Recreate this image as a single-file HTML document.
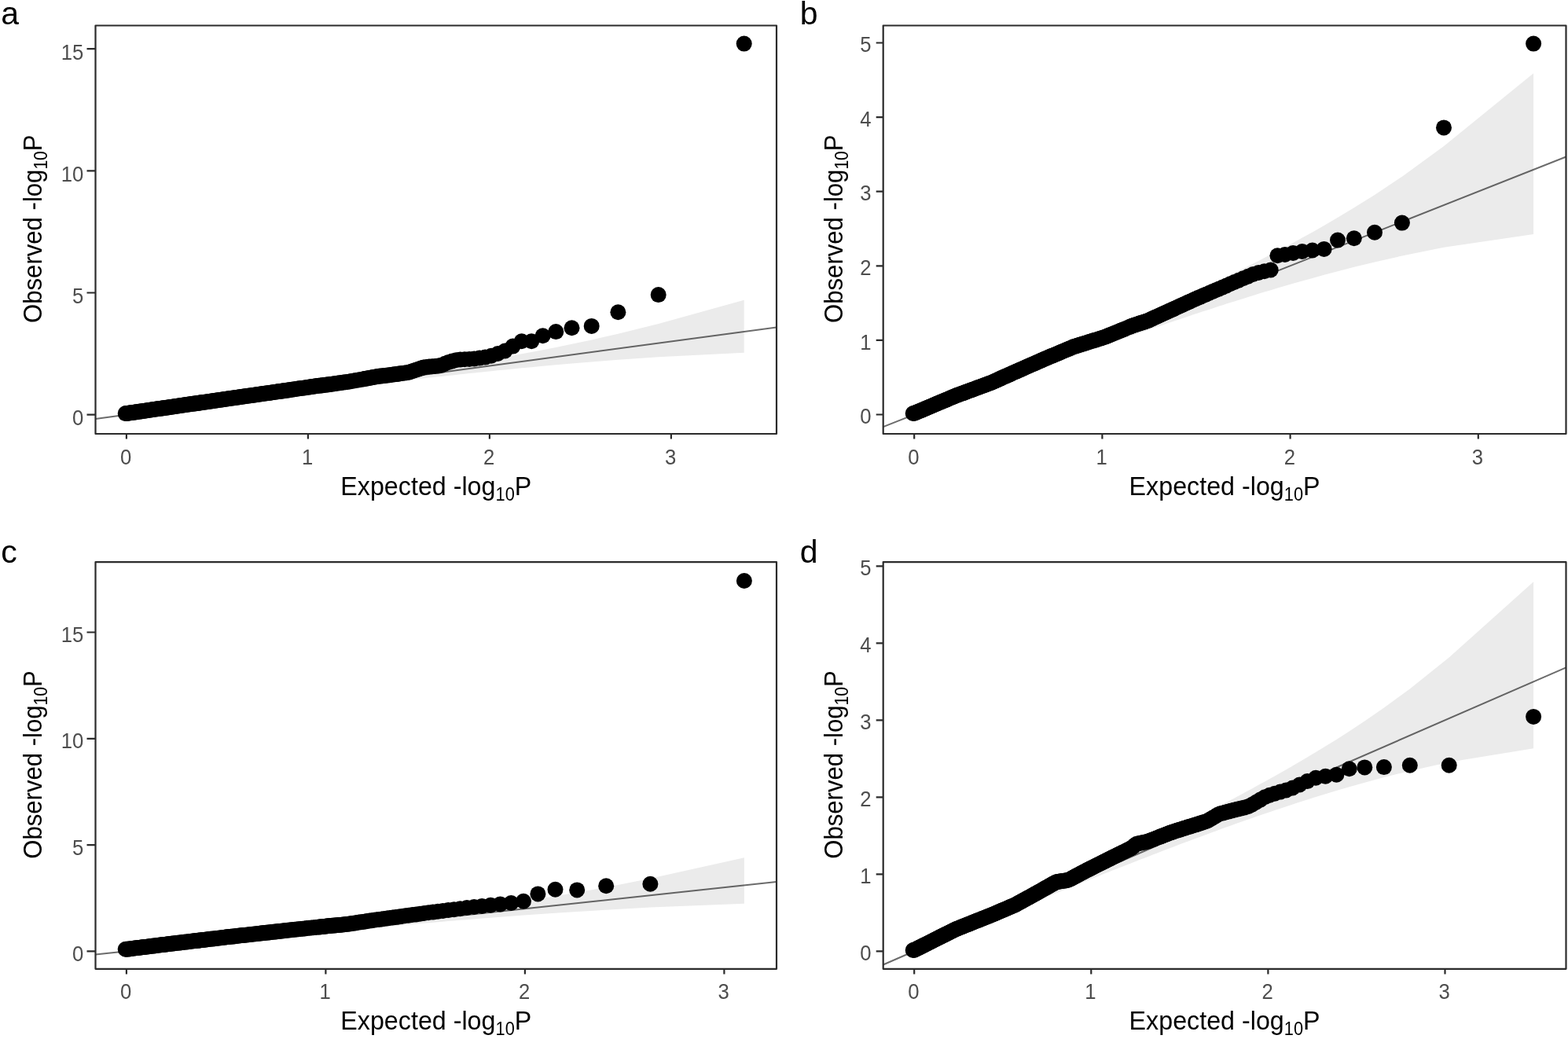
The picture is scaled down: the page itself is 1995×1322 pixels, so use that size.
<!DOCTYPE html>
<html lang="en">
<head>
<meta charset="utf-8">
<title>QQ plots</title>
<style>
html,body{margin:0;padding:0;background:#fff;}
body{width:1995px;height:1322px;overflow:hidden;}
svg{display:block;}
text{font-family:"Liberation Sans",sans-serif;}
.tl text{font-size:28px;fill:#4d4d4d;}
.at{font-size:34px;fill:#000;}
.sub{font-size:23px;}
.pl{font-size:41px;fill:#000;}
</style>
</head>
<body>
<svg width="1995" height="1322" viewBox="0 0 1995 1322">
<rect width="1995" height="1322" fill="#fff"/>
<g id="panel-a">
<clipPath id="clip-a"><rect x="121.5" y="32.5" width="866.5" height="519.5"/></clipPath>
<g clip-path="url(#clip-a)">
<polygon fill="#ebebeb" points="946.7,381.7 837.7,412.1 786.4,424.8 752.7,432.4 727.5,437.8 707.3,441.9 690.6,445.2 676.2,447.9 663.7,450.3 652.5,452.4 642.5,454.2 633.3,455.8 625,457.3 617.3,458.7 610.1,459.9 603.4,461.1 597.1,462.2 591.2,463.2 585.6,464.1 580.4,465 575.3,465.8 570.6,466.6 566,467.4 561.6,468.1 557.5,468.8 553.5,469.4 549.6,470.1 545.9,470.7 542.3,471.2 538.8,471.8 535.5,472.3 532.3,472.9 529.1,473.4 526.1,473.8 520.3,474.8 514.8,475.6 509.5,476.5 504.6,477.2 499.9,478 495.4,478.7 491,479.3 486.9,480 482.9,480.6 479.1,481.2 475.4,481.8 471.9,482.3 468.4,482.8 465.1,483.3 461.9,483.8 458.8,484.3 455.8,484.8 451.4,485.4 447.2,486 443.2,486.7 439.4,487.2 435.7,487.8 432.1,488.3 428.6,488.8 425.3,489.3 422,489.8 418.9,490.3 415.9,490.8 411.9,491.3 408.2,491.9 404.5,492.4 401,492.9 397.7,493.4 394.4,493.9 391.2,494.4 388.1,494.8 384.4,495.4 380.8,495.9 377.4,496.4 374,496.9 370.8,497.4 367.7,497.8 364.6,498.3 361.1,498.8 357.7,499.3 354.4,499.8 351.2,500.2 348.1,500.7 345.1,501.1 341.7,501.6 338.4,502.1 335.2,502.5 332.2,503 328.7,503.5 325.4,504 322.3,504.4 319.2,504.9 316.2,505.3 312.9,505.8 309.7,506.2 306.6,506.7 303.3,507.1 300.1,507.6 297,508 294,508.5 290.8,508.9 287.7,509.4 284.7,509.8 281.5,510.2 278.4,510.7 275.2,511.1 272,511.6 269,512 265.8,512.5 262.7,512.9 259.5,513.4 256.4,513.8 253.4,514.2 250.3,514.7 247.3,515.1 244.2,515.6 241.1,516 238,516.4 235,516.8 232,517.3 228.8,517.7 225.8,518.2 222.7,518.6 219.7,519 216.6,519.5 213.5,519.9 210.5,520.3 207.4,520.8 204.4,521.2 201.3,521.6 198.2,522.1 195.2,522.5 192.2,522.9 189.1,523.4 186,523.8 182.9,524.3 179.8,524.7 176.8,525.1 173.7,525.6 170.6,526 167.5,526.5 164.5,527 161.4,527.5 160.9,527.6 160.9,527.6 161.4,527.6 164.5,527.2 167.5,526.9 170.6,526.5 173.7,526.1 176.8,525.8 179.8,525.4 182.9,525 186,524.6 189.1,524.2 192.2,523.8 195.2,523.4 198.2,523.1 201.3,522.7 204.4,522.3 207.4,521.9 210.5,521.5 213.5,521.1 216.6,520.7 219.7,520.3 222.7,520 225.8,519.6 228.8,519.2 232,518.8 235,518.4 238,518 241.1,517.6 244.2,517.2 247.3,516.8 250.3,516.5 253.4,516.1 256.4,515.7 259.5,515.3 262.7,514.9 265.8,514.5 269,514.1 272,513.7 275.2,513.3 278.4,512.9 281.5,512.5 284.7,512.1 287.7,511.7 290.8,511.3 294,510.9 297,510.5 300.1,510.1 303.3,509.7 306.6,509.3 309.7,508.9 312.9,508.5 316.2,508.1 319.2,507.8 322.3,507.4 325.4,507 328.7,506.6 332.2,506.1 335.2,505.7 338.4,505.3 341.7,504.9 345.1,504.5 348.1,504.1 351.2,503.8 354.4,503.4 357.7,503 361.1,502.5 364.6,502.1 367.7,501.7 370.8,501.3 374,500.9 377.4,500.5 380.8,500.1 384.4,499.6 388.1,499.2 391.2,498.8 394.4,498.4 397.7,498 401,497.6 404.5,497.2 408.2,496.7 411.9,496.3 415.9,495.8 418.9,495.4 422,495.1 425.3,494.7 428.6,494.3 432.1,493.8 435.7,493.4 439.4,493 443.2,492.5 447.2,492 451.4,491.5 455.8,491 458.8,490.7 461.9,490.3 465.1,489.9 468.4,489.5 471.9,489.1 475.4,488.7 479.1,488.3 482.9,487.8 486.9,487.4 491,486.9 495.4,486.4 499.9,485.8 504.6,485.3 509.5,484.7 514.8,484.1 520.3,483.5 526.1,482.9 529.1,482.5 532.3,482.2 535.5,481.8 538.8,481.4 542.3,481 545.9,480.6 549.6,480.2 553.5,479.8 557.5,479.3 561.6,478.9 566,478.4 570.6,477.9 575.3,477.4 580.4,476.9 585.6,476.3 591.2,475.7 597.1,475.1 603.4,474.4 610.1,473.7 617.3,473 625,472.2 633.3,471.3 642.5,470.4 652.5,469.4 663.7,468.3 676.2,467.2 690.6,465.8 707.3,464.3 727.5,462.5 752.7,460.5 786.4,457.8 837.7,454.3 946.7,448.8"/>
<line x1="121.5" y1="532.9" x2="988" y2="416.5" stroke="#000" stroke-opacity="0.58" stroke-width="2"/>
<g fill="#000"><circle cx="159.7" cy="526.1" r="10.0"/><circle cx="946.7" cy="55.6" r="10.0"/><circle cx="837.7" cy="375.1" r="10.0"/><circle cx="786.4" cy="397.2" r="10.0"/><circle cx="752.7" cy="414.9" r="10.0"/><circle cx="727.5" cy="417.3" r="10.0"/><circle cx="707.3" cy="422.1" r="10.0"/><circle cx="690.6" cy="427.3" r="10.0"/><circle cx="676.2" cy="434.2" r="10.0"/><circle cx="663.7" cy="434.2" r="10.0"/><circle cx="652.5" cy="440.6" r="10.0"/><circle cx="642.5" cy="446.5" r="10.0"/><circle cx="633.3" cy="450" r="10.0"/><circle cx="625" cy="452.7" r="10.0"/><circle cx="617.3" cy="454.6" r="10.0"/><circle cx="610.1" cy="455.6" r="10.0"/><circle cx="603.4" cy="456.4" r="10.0"/><circle cx="597.1" cy="456.9" r="10.0"/><circle cx="591.2" cy="457.2" r="10.0"/><circle cx="585.6" cy="457.4" r="10.0"/><circle cx="580.4" cy="458.3" r="10.0"/><circle cx="575.3" cy="459.5" r="10.0"/><circle cx="570.6" cy="460.9" r="10.0"/><circle cx="566" cy="462.8" r="10.0"/><circle cx="561.6" cy="464.7" r="10.0"/><circle cx="557.5" cy="465.6" r="10.0"/><circle cx="553.5" cy="466" r="10.0"/><circle cx="549.6" cy="466.3" r="10.0"/><circle cx="545.9" cy="466.6" r="10.0"/><circle cx="542.3" cy="466.9" r="10.0"/><circle cx="538.8" cy="467.5" r="10.0"/><circle cx="535.5" cy="468.6" r="10.0"/><circle cx="532.3" cy="469.7" r="10.0"/><circle cx="529.1" cy="470.7" r="10.0"/><circle cx="526.1" cy="471.8" r="10.0"/><circle cx="523.1" cy="472.8" r="10.0"/><circle cx="520.3" cy="473.7" r="10.0"/><circle cx="517.5" cy="474.2" r="10.0"/><circle cx="514.8" cy="474.5" r="10.0"/><circle cx="512.1" cy="474.9" r="10.0"/><circle cx="509.5" cy="475.3" r="10.0"/><circle cx="507" cy="475.6" r="10.0"/><circle cx="504.6" cy="476" r="10.0"/><circle cx="502.2" cy="476.3" r="10.0"/><circle cx="499.9" cy="476.6" r="10.0"/><circle cx="497.6" cy="476.9" r="10.0"/><circle cx="495.4" cy="477.2" r="10.0"/><circle cx="493.2" cy="477.4" r="10.0"/><circle cx="491" cy="477.7" r="10.0"/><circle cx="489" cy="477.9" r="10.0"/><circle cx="486.9" cy="478.2" r="10.0"/><circle cx="484.9" cy="478.4" r="10.0"/><circle cx="482.9" cy="478.6" r="10.0"/><circle cx="481" cy="478.9" r="10.0"/><circle cx="479.1" cy="479.2" r="10.0"/><circle cx="477.3" cy="479.5" r="10.0"/><circle cx="475.4" cy="479.9" r="10.0"/><circle cx="473.6" cy="480.2" r="10.0"/><circle cx="471.9" cy="480.5" r="10.0"/><circle cx="470.1" cy="480.9" r="10.0"/><circle cx="468.4" cy="481.2" r="10.0"/><circle cx="466.8" cy="481.5" r="10.0"/><circle cx="465.1" cy="481.8" r="10.0"/><circle cx="463.5" cy="482.1" r="10.0"/><circle cx="461.9" cy="482.4" r="10.0"/><circle cx="458.8" cy="483" r="10.0"/><circle cx="455.8" cy="483.5" r="10.0"/><circle cx="452.9" cy="484" r="10.0"/><circle cx="450" cy="484.5" r="10.0"/><circle cx="447.2" cy="485" r="10.0"/><circle cx="444.6" cy="485.4" r="10.0"/><circle cx="441.9" cy="485.9" r="10.0"/><circle cx="439.4" cy="486.3" r="10.0"/><circle cx="436.9" cy="486.6" r="10.0"/><circle cx="434.5" cy="487" r="10.0"/><circle cx="432.1" cy="487.3" r="10.0"/><circle cx="429.8" cy="487.6" r="10.0"/><circle cx="427.5" cy="488" r="10.0"/><circle cx="425.3" cy="488.3" r="10.0"/><circle cx="423.1" cy="488.6" r="10.0"/><circle cx="421" cy="488.9" r="10.0"/><circle cx="418.9" cy="489.1" r="10.0"/><circle cx="416.9" cy="489.4" r="10.0"/><circle cx="414.9" cy="489.6" r="10.0"/><circle cx="412.9" cy="489.9" r="10.0"/><circle cx="411" cy="490.1" r="10.0"/><circle cx="409.1" cy="490.4" r="10.0"/><circle cx="407.3" cy="490.6" r="10.0"/><circle cx="405.4" cy="490.8" r="10.0"/><circle cx="403.7" cy="491" r="10.0"/><circle cx="401.9" cy="491.3" r="10.0"/><circle cx="400.2" cy="491.5" r="10.0"/><circle cx="398.5" cy="491.7" r="10.0"/><circle cx="396.8" cy="492" r="10.0"/><circle cx="395.2" cy="492.2" r="10.0"/><circle cx="393.6" cy="492.5" r="10.0"/><circle cx="392" cy="492.7" r="10.0"/><circle cx="389.7" cy="493" r="10.0"/><circle cx="387.4" cy="493.4" r="10.0"/><circle cx="385.1" cy="493.7" r="10.0"/><circle cx="383" cy="494" r="10.0"/><circle cx="380.8" cy="494.3" r="10.0"/><circle cx="378.7" cy="494.6" r="10.0"/><circle cx="376.7" cy="495" r="10.0"/><circle cx="374.7" cy="495.2" r="10.0"/><circle cx="372.7" cy="495.5" r="10.0"/><circle cx="370.8" cy="495.8" r="10.0"/><circle cx="368.9" cy="496.1" r="10.0"/><circle cx="367" cy="496.4" r="10.0"/><circle cx="365.2" cy="496.6" r="10.0"/><circle cx="363.4" cy="496.9" r="10.0"/><circle cx="361.7" cy="497.1" r="10.0"/><circle cx="359.9" cy="497.4" r="10.0"/><circle cx="358.2" cy="497.6" r="10.0"/><circle cx="356.6" cy="497.9" r="10.0"/><circle cx="354.9" cy="498.1" r="10.0"/><circle cx="353.3" cy="498.3" r="10.0"/><circle cx="351.7" cy="498.6" r="10.0"/><circle cx="349.6" cy="498.9" r="10.0"/><circle cx="347.6" cy="499.1" r="10.0"/><circle cx="345.6" cy="499.4" r="10.0"/><circle cx="343.6" cy="499.7" r="10.0"/><circle cx="341.7" cy="500" r="10.0"/><circle cx="339.8" cy="500.2" r="10.0"/><circle cx="337.9" cy="500.5" r="10.0"/><circle cx="336.1" cy="500.8" r="10.0"/><circle cx="334.3" cy="501" r="10.0"/><circle cx="332.6" cy="501.3" r="10.0"/><circle cx="330.9" cy="501.5" r="10.0"/><circle cx="329.2" cy="501.8" r="10.0"/><circle cx="327.5" cy="502" r="10.0"/><circle cx="325.9" cy="502.2" r="10.0"/><circle cx="324.2" cy="502.5" r="10.0"/><circle cx="322.6" cy="502.7" r="10.0"/><circle cx="320.7" cy="503" r="10.0"/><circle cx="318.8" cy="503.2" r="10.0"/><circle cx="316.9" cy="503.5" r="10.0"/><circle cx="315.1" cy="503.8" r="10.0"/><circle cx="313.2" cy="504" r="10.0"/><circle cx="311.5" cy="504.3" r="10.0"/><circle cx="309.7" cy="504.5" r="10.0"/><circle cx="308" cy="504.8" r="10.0"/><circle cx="306.3" cy="505" r="10.0"/><circle cx="304.7" cy="505.2" r="10.0"/><circle cx="303" cy="505.5" r="10.0"/><circle cx="301.4" cy="505.7" r="10.0"/><circle cx="299.5" cy="506" r="10.0"/><circle cx="297.7" cy="506.2" r="10.0"/><circle cx="295.8" cy="506.5" r="10.0"/><circle cx="294" cy="506.7" r="10.0"/><circle cx="292.3" cy="507" r="10.0"/><circle cx="290.5" cy="507.2" r="10.0"/><circle cx="288.8" cy="507.5" r="10.0"/><circle cx="287.2" cy="507.7" r="10.0"/><circle cx="285.5" cy="508" r="10.0"/><circle cx="283.9" cy="508.2" r="10.0"/><circle cx="282.3" cy="508.4" r="10.0"/><circle cx="280.5" cy="508.7" r="10.0"/><circle cx="278.7" cy="508.9" r="10.0"/><circle cx="276.9" cy="509.2" r="10.0"/><circle cx="275.2" cy="509.5" r="10.0"/><circle cx="273.5" cy="509.7" r="10.0"/><circle cx="271.8" cy="509.9" r="10.0"/><circle cx="270.1" cy="510.2" r="10.0"/><circle cx="268.5" cy="510.4" r="10.0"/><circle cx="266.9" cy="510.7" r="10.0"/><circle cx="265.1" cy="510.9" r="10.0"/><circle cx="263.4" cy="511.2" r="10.0"/><circle cx="261.6" cy="511.4" r="10.0"/><circle cx="259.9" cy="511.7" r="10.0"/><circle cx="258.3" cy="511.9" r="10.0"/><circle cx="256.6" cy="512.1" r="10.0"/><circle cx="255" cy="512.4" r="10.0"/><circle cx="253.4" cy="512.6" r="10.0"/><circle cx="251.6" cy="512.9" r="10.0"/><circle cx="249.9" cy="513.1" r="10.0"/><circle cx="248.2" cy="513.4" r="10.0"/><circle cx="246.5" cy="513.6" r="10.0"/><circle cx="244.9" cy="513.8" r="10.0"/><circle cx="243.3" cy="514.1" r="10.0"/><circle cx="241.7" cy="514.3" r="10.0"/><circle cx="239.9" cy="514.6" r="10.0"/><circle cx="238.2" cy="514.8" r="10.0"/><circle cx="236.5" cy="515.1" r="10.0"/><circle cx="234.9" cy="515.3" r="10.0"/><circle cx="233.2" cy="515.5" r="10.0"/><circle cx="231.6" cy="515.8" r="10.0"/><circle cx="229.9" cy="516" r="10.0"/><circle cx="228.2" cy="516.3" r="10.0"/><circle cx="226.5" cy="516.5" r="10.0"/><circle cx="224.9" cy="516.8" r="10.0"/><circle cx="223.2" cy="517" r="10.0"/><circle cx="221.6" cy="517.2" r="10.0"/><circle cx="219.9" cy="517.5" r="10.0"/><circle cx="218.2" cy="517.7" r="10.0"/><circle cx="216.6" cy="518" r="10.0"/><circle cx="215" cy="518.2" r="10.0"/><circle cx="213.4" cy="518.4" r="10.0"/><circle cx="211.6" cy="518.7" r="10.0"/><circle cx="210" cy="518.9" r="10.0"/><circle cx="208.3" cy="519.1" r="10.0"/><circle cx="206.7" cy="519.4" r="10.0"/><circle cx="205.1" cy="519.6" r="10.0"/><circle cx="203.4" cy="519.9" r="10.0"/><circle cx="201.7" cy="520.1" r="10.0"/><circle cx="200.1" cy="520.3" r="10.0"/><circle cx="198.5" cy="520.6" r="10.0"/><circle cx="196.9" cy="520.8" r="10.0"/><circle cx="195.2" cy="521" r="10.0"/><circle cx="193.6" cy="521.3" r="10.0"/><circle cx="191.9" cy="521.5" r="10.0"/><circle cx="190.3" cy="521.7" r="10.0"/><circle cx="188.7" cy="522" r="10.0"/><circle cx="187" cy="522.2" r="10.0"/><circle cx="185.4" cy="522.4" r="10.0"/><circle cx="183.8" cy="522.7" r="10.0"/><circle cx="182.2" cy="522.9" r="10.0"/><circle cx="180.5" cy="523.2" r="10.0"/><circle cx="178.9" cy="523.4" r="10.0"/><circle cx="177.3" cy="523.6" r="10.0"/><circle cx="175.7" cy="523.9" r="10.0"/><circle cx="174" cy="524.1" r="10.0"/><circle cx="172.4" cy="524.4" r="10.0"/><circle cx="170.8" cy="524.6" r="10.0"/><circle cx="169.1" cy="524.9" r="10.0"/><circle cx="167.5" cy="525.1" r="10.0"/><circle cx="165.9" cy="525.3" r="10.0"/><circle cx="164.3" cy="525.6" r="10.0"/><circle cx="162.7" cy="525.8" r="10.0"/><circle cx="161.1" cy="526.1" r="10.0"/><circle cx="160.9" cy="526.1" r="10.0"/></g>
</g>
<rect x="121.5" y="32.5" width="866.5" height="519.5" fill="none" stroke="#2b2b2b" stroke-width="2.2" stroke-linejoin="round"/>
<path d="M160.9 552v6.6M391.9 552v6.6M622.9 552v6.6M853.9 552v6.6M121.5 527.6h-11M121.5 372.5h-11M121.5 217.3h-11M121.5 62.1h-11" stroke="#2b2b2b" stroke-width="2.2" fill="none"/>
<g class="tl" text-anchor="middle"><text x="160.1" y="590.6" textLength="14.3" lengthAdjust="spacingAndGlyphs">0</text><text x="391.1" y="590.6" textLength="14.3" lengthAdjust="spacingAndGlyphs">1</text><text x="622.1" y="590.6" textLength="14.3" lengthAdjust="spacingAndGlyphs">2</text><text x="853.1" y="590.6" textLength="14.3" lengthAdjust="spacingAndGlyphs">3</text></g>
<g class="tl" text-anchor="end"><text x="106.3" y="541" textLength="14.3" lengthAdjust="spacingAndGlyphs">0</text><text x="106.3" y="385.9" textLength="14.3" lengthAdjust="spacingAndGlyphs">5</text><text x="106.3" y="230.7" textLength="28.6" lengthAdjust="spacingAndGlyphs">10</text><text x="106.3" y="75.5" textLength="28.6" lengthAdjust="spacingAndGlyphs">15</text></g>
<text class="at" text-anchor="middle" textLength="243" lengthAdjust="spacingAndGlyphs" x="554.8" y="629.6">Expected -log<tspan class="sub" dy="7">10</tspan><tspan dy="-7">P</tspan></text>
<text class="at" text-anchor="middle" textLength="239.5" lengthAdjust="spacingAndGlyphs" transform="translate(52.6 291.2) rotate(-90)">Observed -log<tspan class="sub" dy="7">10</tspan><tspan dy="-7">P</tspan></text>
<text class="pl" x="1.2" y="31">a</text>
</g>
<g id="panel-b">
<clipPath id="clip-b"><rect x="1123.7" y="32.5" width="868.8" height="519.5"/></clipPath>
<g clip-path="url(#clip-b)">
<polygon fill="#ebebeb" points="1951.1,93.3 1837,186.1 1783.9,224.7 1749,247.9 1722.8,264.3 1702,276.8 1684.6,286.9 1669.8,295.4 1656.8,302.6 1645.2,308.9 1634.8,314.4 1625.4,319.4 1616.7,324 1608.7,328.1 1601.3,331.9 1594.4,335.4 1587.9,338.7 1581.8,341.8 1576,344.6 1570.5,347.3 1565.3,349.9 1560.4,352.3 1555.7,354.6 1551.1,356.8 1546.8,358.9 1542.6,360.9 1538.7,362.8 1534.8,364.6 1531.1,366.4 1527.5,368.1 1524,369.8 1520.7,371.3 1517.5,372.9 1514.3,374.3 1511.2,375.8 1505.4,378.5 1499.9,381.1 1494.6,383.5 1489.6,385.8 1484.8,388 1480.2,390.1 1475.9,392.1 1471.7,394 1467.6,395.9 1463.7,397.6 1460,399.3 1456.4,401 1452.9,402.5 1449.5,404 1446.2,405.5 1443.1,406.9 1440,408.3 1435.5,410.3 1431.3,412.2 1427.2,414 1423.2,415.8 1419.4,417.5 1415.8,419.1 1412.2,420.6 1408.8,422.1 1405.5,423.6 1402.3,425 1399.1,426.4 1396.1,427.7 1392.2,429.4 1388.5,431 1384.8,432.6 1381.3,434.2 1377.9,435.6 1374.6,437.1 1371.5,438.4 1368.4,439.8 1365.4,441.1 1361.7,442.6 1358.2,444.1 1354.8,445.6 1351.5,447 1348.4,448.4 1345.3,449.7 1342.3,451 1338.8,452.5 1335.4,454 1332.1,455.4 1328.9,456.7 1325.9,458 1322.4,459.5 1319,460.9 1315.8,462.3 1312.6,463.7 1309.5,465 1306.1,466.4 1302.8,467.8 1299.6,469.2 1296.6,470.5 1293.5,471.8 1290.3,473.2 1287.1,474.5 1284,475.8 1280.7,477.2 1277.5,478.6 1274.3,479.9 1271.3,481.2 1268.1,482.5 1264.9,483.9 1261.9,485.1 1258.6,486.5 1255.5,487.8 1252.5,489.1 1249.3,490.4 1246.2,491.7 1243.2,493 1240,494.3 1237,495.6 1233.8,496.9 1230.7,498.2 1227.5,499.6 1224.5,500.9 1221.4,502.1 1218.4,503.5 1215.3,504.7 1212.2,506 1209.2,507.3 1206.2,508.6 1203,509.9 1200,511.2 1196.9,512.5 1193.8,513.8 1190.8,515.1 1187.6,516.4 1184.6,517.7 1181.5,519 1178.4,520.4 1175.4,521.7 1172.4,523 1169.3,524.4 1166.2,525.8 1163.2,527.3 1163.2,527.5 1166.2,526.7 1169.3,525.6 1172.4,524.6 1175.4,523.5 1178.4,522.4 1181.5,521.3 1184.6,520.2 1187.6,519.1 1190.8,517.9 1193.8,516.8 1196.9,515.7 1200,514.6 1203,513.4 1206.2,512.3 1209.2,511.1 1212.2,510 1215.3,508.9 1218.4,507.8 1221.4,506.6 1224.5,505.5 1227.5,504.3 1230.7,503.2 1233.8,502 1237,500.8 1240,499.7 1243.2,498.5 1246.2,497.4 1249.3,496.3 1252.5,495.1 1255.5,494 1258.6,492.8 1261.9,491.6 1264.9,490.5 1268.1,489.3 1271.3,488.1 1274.3,487 1277.5,485.8 1280.7,484.6 1284,483.4 1287.1,482.3 1290.3,481.1 1293.5,479.9 1296.6,478.8 1299.6,477.6 1302.8,476.5 1306.1,475.3 1309.5,474 1312.6,472.9 1315.8,471.7 1319,470.5 1322.4,469.3 1325.9,468 1328.9,466.9 1332.1,465.7 1335.4,464.5 1338.8,463.3 1342.3,462 1345.3,460.9 1348.4,459.8 1351.5,458.7 1354.8,457.5 1358.2,456.2 1361.7,455 1365.4,453.6 1368.4,452.6 1371.5,451.4 1374.6,450.3 1377.9,449.1 1381.3,447.9 1384.8,446.6 1388.5,445.3 1392.2,444 1396.1,442.6 1399.1,441.5 1402.3,440.4 1405.5,439.3 1408.8,438.1 1412.2,436.9 1415.8,435.6 1419.4,434.3 1423.2,433 1427.2,431.6 1431.3,430.1 1435.5,428.6 1440,427.1 1443.1,426 1446.2,424.9 1449.5,423.8 1452.9,422.6 1456.4,421.4 1460,420.1 1463.7,418.8 1467.6,417.5 1471.7,416.1 1475.9,414.7 1480.2,413.2 1484.8,411.6 1489.6,410 1494.6,408.3 1499.9,406.5 1505.4,404.7 1511.2,402.7 1514.3,401.7 1517.5,400.6 1520.7,399.6 1524,398.5 1527.5,397.3 1531.1,396.1 1534.8,394.9 1538.7,393.7 1542.6,392.4 1546.8,391 1551.1,389.6 1555.7,388.2 1560.4,386.6 1565.3,385.1 1570.5,383.4 1576,381.7 1581.8,379.9 1587.9,378 1594.4,376 1601.3,373.8 1608.7,371.6 1616.7,369.2 1625.4,366.6 1634.8,363.8 1645.2,360.8 1656.8,357.5 1669.8,353.9 1684.6,349.8 1702,345.2 1722.8,339.8 1749,333.4 1783.9,325.5 1837,314.8 1951.1,297.9"/>
<line x1="1123.7" y1="543.1" x2="1992.5" y2="199.5" stroke="#000" stroke-opacity="0.58" stroke-width="2"/>
<g fill="#000"><circle cx="1161.7" cy="526" r="10.0"/><circle cx="1951.1" cy="55.6" r="10.0"/><circle cx="1837" cy="162.4" r="10.0"/><circle cx="1783.9" cy="283.6" r="10.0"/><circle cx="1749" cy="295.7" r="10.0"/><circle cx="1722.8" cy="303.3" r="10.0"/><circle cx="1702" cy="305.6" r="10.0"/><circle cx="1684.6" cy="316.9" r="10.0"/><circle cx="1669.8" cy="318.5" r="10.0"/><circle cx="1656.8" cy="320" r="10.0"/><circle cx="1645.2" cy="322" r="10.0"/><circle cx="1634.8" cy="324" r="10.0"/><circle cx="1625.4" cy="325.2" r="10.0"/><circle cx="1616.7" cy="343.5" r="10.0"/><circle cx="1608.7" cy="345.2" r="10.0"/><circle cx="1601.3" cy="346.9" r="10.0"/><circle cx="1594.4" cy="348.9" r="10.0"/><circle cx="1587.9" cy="351.7" r="10.0"/><circle cx="1581.8" cy="354.3" r="10.0"/><circle cx="1576" cy="356.7" r="10.0"/><circle cx="1570.5" cy="359" r="10.0"/><circle cx="1565.3" cy="361.3" r="10.0"/><circle cx="1560.4" cy="363.4" r="10.0"/><circle cx="1555.7" cy="365.4" r="10.0"/><circle cx="1551.1" cy="367.4" r="10.0"/><circle cx="1546.8" cy="369.3" r="10.0"/><circle cx="1542.6" cy="371.1" r="10.0"/><circle cx="1538.7" cy="372.8" r="10.0"/><circle cx="1534.8" cy="374.4" r="10.0"/><circle cx="1531.1" cy="376" r="10.0"/><circle cx="1527.5" cy="377.6" r="10.0"/><circle cx="1524" cy="379.1" r="10.0"/><circle cx="1520.7" cy="380.5" r="10.0"/><circle cx="1517.5" cy="382" r="10.0"/><circle cx="1514.3" cy="383.5" r="10.0"/><circle cx="1511.2" cy="384.8" r="10.0"/><circle cx="1508.3" cy="386.2" r="10.0"/><circle cx="1505.4" cy="387.5" r="10.0"/><circle cx="1502.6" cy="388.8" r="10.0"/><circle cx="1499.9" cy="390" r="10.0"/><circle cx="1497.2" cy="391.3" r="10.0"/><circle cx="1494.6" cy="392.4" r="10.0"/><circle cx="1492.1" cy="393.6" r="10.0"/><circle cx="1489.6" cy="394.7" r="10.0"/><circle cx="1487.2" cy="395.8" r="10.0"/><circle cx="1484.8" cy="396.9" r="10.0"/><circle cx="1482.5" cy="398" r="10.0"/><circle cx="1480.2" cy="399" r="10.0"/><circle cx="1478" cy="400" r="10.0"/><circle cx="1475.9" cy="401" r="10.0"/><circle cx="1473.7" cy="402" r="10.0"/><circle cx="1471.7" cy="402.9" r="10.0"/><circle cx="1469.6" cy="403.8" r="10.0"/><circle cx="1467.6" cy="404.7" r="10.0"/><circle cx="1465.7" cy="405.6" r="10.0"/><circle cx="1463.7" cy="406.5" r="10.0"/><circle cx="1461.9" cy="407.4" r="10.0"/><circle cx="1460" cy="408.2" r="10.0"/><circle cx="1458.2" cy="408.8" r="10.0"/><circle cx="1456.4" cy="409.4" r="10.0"/><circle cx="1454.6" cy="409.9" r="10.0"/><circle cx="1452.9" cy="410.5" r="10.0"/><circle cx="1451.2" cy="411.1" r="10.0"/><circle cx="1449.5" cy="411.6" r="10.0"/><circle cx="1447.9" cy="412.2" r="10.0"/><circle cx="1446.2" cy="412.7" r="10.0"/><circle cx="1444.6" cy="413.3" r="10.0"/><circle cx="1443.1" cy="413.8" r="10.0"/><circle cx="1441.5" cy="414.3" r="10.0"/><circle cx="1440" cy="414.8" r="10.0"/><circle cx="1438.5" cy="415.4" r="10.0"/><circle cx="1437" cy="416" r="10.0"/><circle cx="1434.1" cy="417.2" r="10.0"/><circle cx="1431.3" cy="418.4" r="10.0"/><circle cx="1428.5" cy="419.5" r="10.0"/><circle cx="1425.8" cy="420.6" r="10.0"/><circle cx="1423.2" cy="421.7" r="10.0"/><circle cx="1420.7" cy="422.7" r="10.0"/><circle cx="1418.2" cy="423.7" r="10.0"/><circle cx="1415.8" cy="424.7" r="10.0"/><circle cx="1413.4" cy="425.7" r="10.0"/><circle cx="1411.1" cy="426.6" r="10.0"/><circle cx="1408.8" cy="427.6" r="10.0"/><circle cx="1406.6" cy="428.5" r="10.0"/><circle cx="1404.4" cy="429.3" r="10.0"/><circle cx="1402.3" cy="430" r="10.0"/><circle cx="1400.2" cy="430.6" r="10.0"/><circle cx="1398.1" cy="431.2" r="10.0"/><circle cx="1396.1" cy="431.9" r="10.0"/><circle cx="1394.2" cy="432.5" r="10.0"/><circle cx="1392.2" cy="433.1" r="10.0"/><circle cx="1390.3" cy="433.6" r="10.0"/><circle cx="1388.5" cy="434.2" r="10.0"/><circle cx="1386.6" cy="434.8" r="10.0"/><circle cx="1384.8" cy="435.3" r="10.0"/><circle cx="1383.1" cy="435.9" r="10.0"/><circle cx="1381.3" cy="436.4" r="10.0"/><circle cx="1379.6" cy="436.9" r="10.0"/><circle cx="1377.9" cy="437.4" r="10.0"/><circle cx="1376.3" cy="437.9" r="10.0"/><circle cx="1374.6" cy="438.4" r="10.0"/><circle cx="1373" cy="438.9" r="10.0"/><circle cx="1371.5" cy="439.4" r="10.0"/><circle cx="1369.9" cy="439.9" r="10.0"/><circle cx="1368.4" cy="440.4" r="10.0"/><circle cx="1366.1" cy="441.1" r="10.0"/><circle cx="1364.6" cy="441.8" r="10.0"/><circle cx="1362.5" cy="442.7" r="10.0"/><circle cx="1360.3" cy="443.6" r="10.0"/><circle cx="1358.2" cy="444.4" r="10.0"/><circle cx="1356.2" cy="445.3" r="10.0"/><circle cx="1354.2" cy="446.2" r="10.0"/><circle cx="1352.2" cy="447" r="10.0"/><circle cx="1350.3" cy="447.8" r="10.0"/><circle cx="1348.4" cy="448.6" r="10.0"/><circle cx="1346.5" cy="449.4" r="10.0"/><circle cx="1344.7" cy="450.2" r="10.0"/><circle cx="1342.9" cy="450.9" r="10.0"/><circle cx="1341.1" cy="451.7" r="10.0"/><circle cx="1339.3" cy="452.4" r="10.0"/><circle cx="1337.6" cy="453.1" r="10.0"/><circle cx="1335.9" cy="453.8" r="10.0"/><circle cx="1334.3" cy="454.5" r="10.0"/><circle cx="1332.7" cy="455.2" r="10.0"/><circle cx="1331.1" cy="455.9" r="10.0"/><circle cx="1329.5" cy="456.5" r="10.0"/><circle cx="1327.9" cy="457.2" r="10.0"/><circle cx="1326.4" cy="457.9" r="10.0"/><circle cx="1324.9" cy="458.6" r="10.0"/><circle cx="1323.4" cy="459.2" r="10.0"/><circle cx="1321.9" cy="459.9" r="10.0"/><circle cx="1320" cy="460.7" r="10.0"/><circle cx="1318.1" cy="461.6" r="10.0"/><circle cx="1316.2" cy="462.4" r="10.0"/><circle cx="1314.4" cy="463.2" r="10.0"/><circle cx="1312.6" cy="464" r="10.0"/><circle cx="1310.8" cy="464.8" r="10.0"/><circle cx="1309.1" cy="465.5" r="10.0"/><circle cx="1307.4" cy="466.3" r="10.0"/><circle cx="1305.7" cy="467" r="10.0"/><circle cx="1304.1" cy="467.8" r="10.0"/><circle cx="1302.4" cy="468.5" r="10.0"/><circle cx="1300.8" cy="469.2" r="10.0"/><circle cx="1299.3" cy="469.9" r="10.0"/><circle cx="1297.7" cy="470.6" r="10.0"/><circle cx="1296.2" cy="471.2" r="10.0"/><circle cx="1294.7" cy="471.9" r="10.0"/><circle cx="1293.2" cy="472.6" r="10.0"/><circle cx="1291.7" cy="473.2" r="10.0"/><circle cx="1289.9" cy="474" r="10.0"/><circle cx="1288.1" cy="474.8" r="10.0"/><circle cx="1286.4" cy="475.6" r="10.0"/><circle cx="1284.7" cy="476.4" r="10.0"/><circle cx="1283" cy="477.1" r="10.0"/><circle cx="1281.3" cy="477.9" r="10.0"/><circle cx="1279.7" cy="478.6" r="10.0"/><circle cx="1278.1" cy="479.3" r="10.0"/><circle cx="1276.5" cy="480" r="10.0"/><circle cx="1274.9" cy="480.7" r="10.0"/><circle cx="1273.4" cy="481.4" r="10.0"/><circle cx="1271.9" cy="482.1" r="10.0"/><circle cx="1270.4" cy="482.8" r="10.0"/><circle cx="1268.9" cy="483.4" r="10.0"/><circle cx="1267.2" cy="484.2" r="10.0"/><circle cx="1265.5" cy="485" r="10.0"/><circle cx="1263.8" cy="485.7" r="10.0"/><circle cx="1262.1" cy="486.5" r="10.0"/><circle cx="1260.5" cy="487.2" r="10.0"/><circle cx="1258.9" cy="487.8" r="10.0"/><circle cx="1257.3" cy="488.3" r="10.0"/><circle cx="1255.8" cy="488.9" r="10.0"/><circle cx="1254.2" cy="489.5" r="10.0"/><circle cx="1252.7" cy="490" r="10.0"/><circle cx="1251" cy="490.7" r="10.0"/><circle cx="1249.3" cy="491.3" r="10.0"/><circle cx="1247.6" cy="491.9" r="10.0"/><circle cx="1246" cy="492.5" r="10.0"/><circle cx="1244.3" cy="493.1" r="10.0"/><circle cx="1242.7" cy="493.7" r="10.0"/><circle cx="1241.2" cy="494.3" r="10.0"/><circle cx="1239.6" cy="494.9" r="10.0"/><circle cx="1238.1" cy="495.4" r="10.0"/><circle cx="1236.6" cy="496" r="10.0"/><circle cx="1234.9" cy="496.6" r="10.0"/><circle cx="1233.2" cy="497.2" r="10.0"/><circle cx="1231.5" cy="497.8" r="10.0"/><circle cx="1229.9" cy="498.4" r="10.0"/><circle cx="1228.3" cy="499" r="10.0"/><circle cx="1226.8" cy="499.6" r="10.0"/><circle cx="1225.2" cy="500.2" r="10.0"/><circle cx="1223.7" cy="500.7" r="10.0"/><circle cx="1222" cy="501.3" r="10.0"/><circle cx="1220.3" cy="502" r="10.0"/><circle cx="1218.7" cy="502.6" r="10.0"/><circle cx="1217.1" cy="503.1" r="10.0"/><circle cx="1215.5" cy="503.7" r="10.0"/><circle cx="1214" cy="504.4" r="10.0"/><circle cx="1212.4" cy="505" r="10.0"/><circle cx="1210.9" cy="505.7" r="10.0"/><circle cx="1209.4" cy="506.3" r="10.0"/><circle cx="1207.8" cy="507" r="10.0"/><circle cx="1206.2" cy="507.7" r="10.0"/><circle cx="1204.6" cy="508.4" r="10.0"/><circle cx="1203" cy="509" r="10.0"/><circle cx="1201.5" cy="509.7" r="10.0"/><circle cx="1200" cy="510.3" r="10.0"/><circle cx="1198.5" cy="510.9" r="10.0"/><circle cx="1196.9" cy="511.6" r="10.0"/><circle cx="1195.3" cy="512.3" r="10.0"/><circle cx="1193.7" cy="513" r="10.0"/><circle cx="1192.1" cy="513.6" r="10.0"/><circle cx="1190.6" cy="514.3" r="10.0"/><circle cx="1189.1" cy="514.9" r="10.0"/><circle cx="1187.6" cy="515.5" r="10.0"/><circle cx="1186" cy="516.2" r="10.0"/><circle cx="1184.5" cy="516.9" r="10.0"/><circle cx="1182.9" cy="517.5" r="10.0"/><circle cx="1181.4" cy="518.2" r="10.0"/><circle cx="1179.9" cy="518.8" r="10.0"/><circle cx="1178.4" cy="519.4" r="10.0"/><circle cx="1176.9" cy="520.1" r="10.0"/><circle cx="1175.3" cy="520.8" r="10.0"/><circle cx="1173.8" cy="521.4" r="10.0"/><circle cx="1172.3" cy="522" r="10.0"/><circle cx="1170.8" cy="522.7" r="10.0"/><circle cx="1169.2" cy="523.3" r="10.0"/><circle cx="1167.6" cy="524" r="10.0"/><circle cx="1166.1" cy="524.6" r="10.0"/><circle cx="1164.6" cy="525.3" r="10.0"/><circle cx="1163.2" cy="525.9" r="10.0"/></g>
</g>
<rect x="1123.7" y="32.5" width="868.8" height="519.5" fill="none" stroke="#2b2b2b" stroke-width="2.2" stroke-linejoin="round"/>
<path d="M1163.2 552v6.6M1402.4 552v6.6M1641.6 552v6.6M1880.8 552v6.6M1123.7 527.5h-9M1123.7 432.9h-9M1123.7 338.3h-9M1123.7 243.7h-9M1123.7 149.1h-9M1123.7 54.5h-9" stroke="#2b2b2b" stroke-width="2.2" fill="none"/>
<g class="tl" text-anchor="middle"><text x="1162.4" y="590.6" textLength="14.3" lengthAdjust="spacingAndGlyphs">0</text><text x="1401.6" y="590.6" textLength="14.3" lengthAdjust="spacingAndGlyphs">1</text><text x="1640.8" y="590.6" textLength="14.3" lengthAdjust="spacingAndGlyphs">2</text><text x="1880" y="590.6" textLength="14.3" lengthAdjust="spacingAndGlyphs">3</text></g>
<g class="tl" text-anchor="end"><text x="1108.5" y="539.1" textLength="14.3" lengthAdjust="spacingAndGlyphs">0</text><text x="1108.5" y="444.5" textLength="14.3" lengthAdjust="spacingAndGlyphs">1</text><text x="1108.5" y="349.9" textLength="14.3" lengthAdjust="spacingAndGlyphs">2</text><text x="1108.5" y="255.3" textLength="14.3" lengthAdjust="spacingAndGlyphs">3</text><text x="1108.5" y="160.7" textLength="14.3" lengthAdjust="spacingAndGlyphs">4</text><text x="1108.5" y="66.1" textLength="14.3" lengthAdjust="spacingAndGlyphs">5</text></g>
<text class="at" text-anchor="middle" textLength="243" lengthAdjust="spacingAndGlyphs" x="1558.1" y="629.6">Expected -log<tspan class="sub" dy="7">10</tspan><tspan dy="-7">P</tspan></text>
<text class="at" text-anchor="middle" textLength="239.5" lengthAdjust="spacingAndGlyphs" transform="translate(1071.6 291.2) rotate(-90)">Observed -log<tspan class="sub" dy="7">10</tspan><tspan dy="-7">P</tspan></text>
<text class="pl" x="1017.8" y="31">b</text>
</g>
<g id="panel-c">
<clipPath id="clip-c"><rect x="121.5" y="715.2" width="866.5" height="517.6"/></clipPath>
<g clip-path="url(#clip-c)">
<polygon fill="#ebebeb" points="946.9,1091.3 827.4,1117.8 771.2,1128.9 734.2,1135.5 706.5,1140.2 684.4,1143.8 666,1146.7 650.3,1149.1 636.5,1151.1 624.2,1152.9 613.2,1154.5 603.2,1156 594,1157.3 585.5,1158.5 577.7,1159.5 570.3,1160.5 563.5,1161.5 557,1162.4 550.9,1163.2 545.1,1164 539.6,1164.7 534.3,1165.4 529.3,1166 524.5,1166.7 519.9,1167.3 515.5,1167.8 511.3,1168.4 507.2,1168.9 503.3,1169.4 499.5,1169.9 495.8,1170.4 492.3,1170.8 488.8,1171.3 485.5,1171.7 482.3,1172.1 479.1,1172.5 476,1172.9 470.2,1173.6 464.6,1174.3 459.3,1175 454.2,1175.6 449.4,1176.2 444.8,1176.8 440.3,1177.3 436,1177.9 431.9,1178.4 427.9,1178.9 424.1,1179.3 420.4,1179.8 416.8,1180.2 413.4,1180.6 410,1181 406.7,1181.4 403.6,1181.8 400.5,1182.2 396,1182.7 391.7,1183.2 387.6,1183.7 383.6,1184.2 379.8,1184.7 376.1,1185.1 372.5,1185.5 369,1185.9 365.6,1186.3 362.4,1186.7 359.2,1187.1 356.1,1187.5 353.1,1187.8 349.2,1188.3 345.5,1188.7 341.9,1189.2 338.3,1189.6 334.9,1190 331.6,1190.4 328.4,1190.7 325.3,1191.1 322.3,1191.5 318.6,1191.9 315.1,1192.3 311.6,1192.7 308.3,1193.1 305.1,1193.5 301.9,1193.8 298.9,1194.2 295.3,1194.6 291.8,1195 288.5,1195.4 285.3,1195.8 282.1,1196.1 279,1196.5 275.6,1196.9 272.2,1197.3 268.9,1197.6 265.8,1198 262.7,1198.4 259.3,1198.8 255.9,1199.1 252.7,1199.5 249.6,1199.9 246.6,1200.2 243.2,1200.6 240,1201 236.9,1201.3 233.8,1201.7 230.5,1202.1 227.3,1202.4 224.2,1202.8 221.2,1203.2 218,1203.5 214.8,1203.9 211.8,1204.2 208.5,1204.6 205.4,1205 202.3,1205.3 199.1,1205.7 196,1206.1 193,1206.4 189.8,1206.8 186.7,1207.1 183.7,1207.5 180.6,1207.9 177.5,1208.2 174.3,1208.6 171.3,1209 168.1,1209.4 165,1209.8 161.8,1210.2 161,1210.3 161,1210.4 161.8,1210.4 165,1210.1 168.1,1209.8 171.3,1209.6 174.3,1209.3 177.5,1209 180.6,1208.7 183.7,1208.4 186.7,1208.1 189.8,1207.8 193,1207.5 196,1207.2 199.1,1206.9 202.3,1206.6 205.4,1206.3 208.5,1206 211.8,1205.6 214.8,1205.3 218,1205 221.2,1204.7 224.2,1204.4 227.3,1204.1 230.5,1203.8 233.8,1203.5 236.9,1203.2 240,1202.9 243.2,1202.5 246.6,1202.2 249.6,1201.9 252.7,1201.6 255.9,1201.3 259.3,1201 262.7,1200.6 265.8,1200.3 268.9,1200 272.2,1199.7 275.6,1199.4 279,1199 282.1,1198.7 285.3,1198.4 288.5,1198.1 291.8,1197.8 295.3,1197.4 298.9,1197.1 301.9,1196.8 305.1,1196.5 308.3,1196.1 311.6,1195.8 315.1,1195.5 318.6,1195.1 322.3,1194.8 325.3,1194.5 328.4,1194.2 331.6,1193.9 334.9,1193.6 338.3,1193.2 341.9,1192.9 345.5,1192.5 349.2,1192.2 353.1,1191.8 356.1,1191.5 359.2,1191.2 362.4,1190.9 365.6,1190.6 369,1190.3 372.5,1189.9 376.1,1189.6 379.8,1189.2 383.6,1188.9 387.6,1188.5 391.7,1188.1 396,1187.7 400.5,1187.3 403.6,1187 406.7,1186.7 410,1186.4 413.4,1186.1 416.8,1185.7 420.4,1185.4 424.1,1185.1 427.9,1184.7 431.9,1184.3 436,1184 440.3,1183.6 444.8,1183.1 449.4,1182.7 454.2,1182.3 459.3,1181.8 464.6,1181.3 470.2,1180.8 476,1180.3 479.1,1180 482.3,1179.7 485.5,1179.4 488.8,1179.1 492.3,1178.8 495.8,1178.5 499.5,1178.2 503.3,1177.9 507.2,1177.5 511.3,1177.1 515.5,1176.8 519.9,1176.4 524.5,1176 529.3,1175.6 534.3,1175.1 539.6,1174.7 545.1,1174.2 550.9,1173.7 557,1173.2 563.5,1172.7 570.3,1172.1 577.7,1171.5 585.5,1170.8 594,1170.2 603.2,1169.4 613.2,1168.6 624.2,1167.8 636.5,1166.8 650.3,1165.8 666,1164.6 684.4,1163.3 706.5,1161.8 734.2,1159.9 771.2,1157.7 827.4,1154.6 946.9,1149.8"/>
<line x1="121.5" y1="1214.6" x2="988" y2="1122.1" stroke="#000" stroke-opacity="0.58" stroke-width="2"/>
<g fill="#000"><circle cx="159.7" cy="1207.8" r="10.0"/><circle cx="946.9" cy="739" r="10.0"/><circle cx="827.4" cy="1124.8" r="10.0"/><circle cx="771.2" cy="1127.3" r="10.0"/><circle cx="734.2" cy="1132.4" r="10.0"/><circle cx="706.5" cy="1131.8" r="10.0"/><circle cx="684.4" cy="1137.4" r="10.0"/><circle cx="666" cy="1146.7" r="10.0"/><circle cx="650.3" cy="1149" r="10.0"/><circle cx="636.5" cy="1150.4" r="10.0"/><circle cx="624.2" cy="1151.8" r="10.0"/><circle cx="613.2" cy="1152.9" r="10.0"/><circle cx="603.2" cy="1154" r="10.0"/><circle cx="594" cy="1155.1" r="10.0"/><circle cx="585.5" cy="1156.2" r="10.0"/><circle cx="577.7" cy="1157.2" r="10.0"/><circle cx="570.3" cy="1158.1" r="10.0"/><circle cx="563.5" cy="1159" r="10.0"/><circle cx="557" cy="1159.8" r="10.0"/><circle cx="550.9" cy="1160.6" r="10.0"/><circle cx="545.1" cy="1161.3" r="10.0"/><circle cx="539.6" cy="1162" r="10.0"/><circle cx="534.3" cy="1162.7" r="10.0"/><circle cx="529.3" cy="1163.4" r="10.0"/><circle cx="524.5" cy="1164.1" r="10.0"/><circle cx="519.9" cy="1164.7" r="10.0"/><circle cx="515.5" cy="1165.3" r="10.0"/><circle cx="511.3" cy="1165.9" r="10.0"/><circle cx="507.2" cy="1166.4" r="10.0"/><circle cx="503.3" cy="1167" r="10.0"/><circle cx="499.5" cy="1167.5" r="10.0"/><circle cx="495.8" cy="1168" r="10.0"/><circle cx="492.3" cy="1168.5" r="10.0"/><circle cx="488.8" cy="1169" r="10.0"/><circle cx="485.5" cy="1169.4" r="10.0"/><circle cx="482.3" cy="1169.9" r="10.0"/><circle cx="479.1" cy="1170.3" r="10.0"/><circle cx="476" cy="1170.8" r="10.0"/><circle cx="473.1" cy="1171.2" r="10.0"/><circle cx="470.2" cy="1171.6" r="10.0"/><circle cx="467.4" cy="1172" r="10.0"/><circle cx="464.6" cy="1172.5" r="10.0"/><circle cx="461.9" cy="1172.9" r="10.0"/><circle cx="459.3" cy="1173.2" r="10.0"/><circle cx="456.7" cy="1173.6" r="10.0"/><circle cx="454.2" cy="1174" r="10.0"/><circle cx="451.8" cy="1174.4" r="10.0"/><circle cx="449.4" cy="1174.7" r="10.0"/><circle cx="447" cy="1175.1" r="10.0"/><circle cx="444.8" cy="1175.4" r="10.0"/><circle cx="442.5" cy="1175.7" r="10.0"/><circle cx="440.3" cy="1176.1" r="10.0"/><circle cx="438.1" cy="1176.3" r="10.0"/><circle cx="436" cy="1176.5" r="10.0"/><circle cx="434" cy="1176.7" r="10.0"/><circle cx="431.9" cy="1176.9" r="10.0"/><circle cx="429.9" cy="1177.1" r="10.0"/><circle cx="427.9" cy="1177.2" r="10.0"/><circle cx="426" cy="1177.4" r="10.0"/><circle cx="424.1" cy="1177.6" r="10.0"/><circle cx="422.2" cy="1177.8" r="10.0"/><circle cx="420.4" cy="1178" r="10.0"/><circle cx="418.6" cy="1178.1" r="10.0"/><circle cx="416.8" cy="1178.3" r="10.0"/><circle cx="415.1" cy="1178.5" r="10.0"/><circle cx="413.4" cy="1178.7" r="10.0"/><circle cx="411.7" cy="1178.9" r="10.0"/><circle cx="410" cy="1179.1" r="10.0"/><circle cx="408.4" cy="1179.2" r="10.0"/><circle cx="406.7" cy="1179.4" r="10.0"/><circle cx="405.1" cy="1179.6" r="10.0"/><circle cx="402" cy="1179.9" r="10.0"/><circle cx="399" cy="1180.2" r="10.0"/><circle cx="396" cy="1180.5" r="10.0"/><circle cx="393.2" cy="1180.8" r="10.0"/><circle cx="390.3" cy="1181.1" r="10.0"/><circle cx="387.6" cy="1181.4" r="10.0"/><circle cx="384.9" cy="1181.7" r="10.0"/><circle cx="382.3" cy="1182" r="10.0"/><circle cx="379.8" cy="1182.2" r="10.0"/><circle cx="377.3" cy="1182.5" r="10.0"/><circle cx="374.9" cy="1182.8" r="10.0"/><circle cx="372.5" cy="1183" r="10.0"/><circle cx="370.2" cy="1183.3" r="10.0"/><circle cx="367.9" cy="1183.5" r="10.0"/><circle cx="365.6" cy="1183.7" r="10.0"/><circle cx="363.4" cy="1184" r="10.0"/><circle cx="361.3" cy="1184.2" r="10.0"/><circle cx="359.2" cy="1184.5" r="10.0"/><circle cx="357.1" cy="1184.7" r="10.0"/><circle cx="355.1" cy="1184.9" r="10.0"/><circle cx="353.1" cy="1185.1" r="10.0"/><circle cx="351.1" cy="1185.4" r="10.0"/><circle cx="349.2" cy="1185.6" r="10.0"/><circle cx="347.3" cy="1185.8" r="10.0"/><circle cx="345.5" cy="1186" r="10.0"/><circle cx="343.6" cy="1186.2" r="10.0"/><circle cx="341.9" cy="1186.4" r="10.0"/><circle cx="340.1" cy="1186.6" r="10.0"/><circle cx="338.3" cy="1186.8" r="10.0"/><circle cx="336.6" cy="1187" r="10.0"/><circle cx="334.9" cy="1187.2" r="10.0"/><circle cx="333.3" cy="1187.3" r="10.0"/><circle cx="331.6" cy="1187.5" r="10.0"/><circle cx="330" cy="1187.7" r="10.0"/><circle cx="327.7" cy="1188" r="10.0"/><circle cx="325.3" cy="1188.2" r="10.0"/><circle cx="323" cy="1188.5" r="10.0"/><circle cx="320.8" cy="1188.7" r="10.0"/><circle cx="318.6" cy="1189" r="10.0"/><circle cx="316.5" cy="1189.2" r="10.0"/><circle cx="314.4" cy="1189.4" r="10.0"/><circle cx="312.3" cy="1189.7" r="10.0"/><circle cx="310.3" cy="1189.9" r="10.0"/><circle cx="308.3" cy="1190.1" r="10.0"/><circle cx="306.3" cy="1190.3" r="10.0"/><circle cx="304.4" cy="1190.5" r="10.0"/><circle cx="302.5" cy="1190.8" r="10.0"/><circle cx="300.7" cy="1191" r="10.0"/><circle cx="298.9" cy="1191.2" r="10.0"/><circle cx="297.1" cy="1191.4" r="10.0"/><circle cx="295.3" cy="1191.6" r="10.0"/><circle cx="293.6" cy="1191.7" r="10.0"/><circle cx="291.8" cy="1191.9" r="10.0"/><circle cx="290.2" cy="1192.1" r="10.0"/><circle cx="288.5" cy="1192.3" r="10.0"/><circle cx="286.9" cy="1192.5" r="10.0"/><circle cx="285.3" cy="1192.7" r="10.0"/><circle cx="283.1" cy="1193" r="10.0"/><circle cx="281.1" cy="1193.2" r="10.0"/><circle cx="279" cy="1193.5" r="10.0"/><circle cx="277" cy="1193.7" r="10.0"/><circle cx="275.1" cy="1193.9" r="10.0"/><circle cx="273.2" cy="1194.2" r="10.0"/><circle cx="271.3" cy="1194.4" r="10.0"/><circle cx="269.4" cy="1194.6" r="10.0"/><circle cx="267.6" cy="1194.8" r="10.0"/><circle cx="265.8" cy="1195" r="10.0"/><circle cx="264" cy="1195.2" r="10.0"/><circle cx="262.2" cy="1195.5" r="10.0"/><circle cx="260.5" cy="1195.7" r="10.0"/><circle cx="258.8" cy="1195.9" r="10.0"/><circle cx="257.2" cy="1196.1" r="10.0"/><circle cx="255.5" cy="1196.3" r="10.0"/><circle cx="253.9" cy="1196.4" r="10.0"/><circle cx="252.3" cy="1196.6" r="10.0"/><circle cx="250.4" cy="1196.9" r="10.0"/><circle cx="248.4" cy="1197.1" r="10.0"/><circle cx="246.6" cy="1197.3" r="10.0"/><circle cx="244.7" cy="1197.5" r="10.0"/><circle cx="242.9" cy="1197.8" r="10.0"/><circle cx="241.1" cy="1198" r="10.0"/><circle cx="239.3" cy="1198.2" r="10.0"/><circle cx="237.6" cy="1198.4" r="10.0"/><circle cx="235.8" cy="1198.6" r="10.0"/><circle cx="234.1" cy="1198.8" r="10.0"/><circle cx="232.5" cy="1199" r="10.0"/><circle cx="230.8" cy="1199.2" r="10.0"/><circle cx="229.2" cy="1199.4" r="10.0"/><circle cx="227.6" cy="1199.6" r="10.0"/><circle cx="225.8" cy="1199.8" r="10.0"/><circle cx="223.9" cy="1200" r="10.0"/><circle cx="222.1" cy="1200.2" r="10.0"/><circle cx="220.3" cy="1200.4" r="10.0"/><circle cx="218.5" cy="1200.6" r="10.0"/><circle cx="216.8" cy="1200.9" r="10.0"/><circle cx="215.1" cy="1201.1" r="10.0"/><circle cx="213.4" cy="1201.3" r="10.0"/><circle cx="211.8" cy="1201.5" r="10.0"/><circle cx="210.2" cy="1201.7" r="10.0"/><circle cx="208.5" cy="1201.9" r="10.0"/><circle cx="206.7" cy="1202.1" r="10.0"/><circle cx="204.9" cy="1202.3" r="10.0"/><circle cx="203.1" cy="1202.6" r="10.0"/><circle cx="201.3" cy="1202.8" r="10.0"/><circle cx="199.6" cy="1203" r="10.0"/><circle cx="197.9" cy="1203.2" r="10.0"/><circle cx="196.2" cy="1203.4" r="10.0"/><circle cx="194.6" cy="1203.6" r="10.0"/><circle cx="193" cy="1203.8" r="10.0"/><circle cx="191.4" cy="1204" r="10.0"/><circle cx="189.6" cy="1204.2" r="10.0"/><circle cx="187.8" cy="1204.5" r="10.0"/><circle cx="186" cy="1204.7" r="10.0"/><circle cx="184.3" cy="1204.9" r="10.0"/><circle cx="182.6" cy="1205.1" r="10.0"/><circle cx="181" cy="1205.3" r="10.0"/><circle cx="179.3" cy="1205.5" r="10.0"/><circle cx="177.7" cy="1205.7" r="10.0"/><circle cx="176.1" cy="1205.9" r="10.0"/><circle cx="174.3" cy="1206.1" r="10.0"/><circle cx="172.6" cy="1206.3" r="10.0"/><circle cx="170.9" cy="1206.6" r="10.0"/><circle cx="169.2" cy="1206.8" r="10.0"/><circle cx="167.6" cy="1207" r="10.0"/><circle cx="165.9" cy="1207.2" r="10.0"/><circle cx="164.3" cy="1207.4" r="10.0"/><circle cx="162.7" cy="1207.6" r="10.0"/><circle cx="161" cy="1207.8" r="10.0"/></g>
</g>
<rect x="121.5" y="715.2" width="866.5" height="517.6" fill="none" stroke="#2b2b2b" stroke-width="2.2" stroke-linejoin="round"/>
<path d="M160.9 1232.8v6.6M414.4 1232.8v6.6M667.9 1232.8v6.6M921.4 1232.8v6.6M121.5 1210.4h-11M121.5 1075.1h-11M121.5 939.8h-11M121.5 804.5h-11" stroke="#2b2b2b" stroke-width="2.2" fill="none"/>
<g class="tl" text-anchor="middle"><text x="160.1" y="1271.4" textLength="14.3" lengthAdjust="spacingAndGlyphs">0</text><text x="413.6" y="1271.4" textLength="14.3" lengthAdjust="spacingAndGlyphs">1</text><text x="667.1" y="1271.4" textLength="14.3" lengthAdjust="spacingAndGlyphs">2</text><text x="920.6" y="1271.4" textLength="14.3" lengthAdjust="spacingAndGlyphs">3</text></g>
<g class="tl" text-anchor="end"><text x="106.3" y="1223" textLength="14.3" lengthAdjust="spacingAndGlyphs">0</text><text x="106.3" y="1087.7" textLength="14.3" lengthAdjust="spacingAndGlyphs">5</text><text x="106.3" y="952.4" textLength="28.6" lengthAdjust="spacingAndGlyphs">10</text><text x="106.3" y="817.1" textLength="28.6" lengthAdjust="spacingAndGlyphs">15</text></g>
<text class="at" text-anchor="middle" textLength="243" lengthAdjust="spacingAndGlyphs" x="554.8" y="1310.4">Expected -log<tspan class="sub" dy="7">10</tspan><tspan dy="-7">P</tspan></text>
<text class="at" text-anchor="middle" textLength="239.5" lengthAdjust="spacingAndGlyphs" transform="translate(52.6 973) rotate(-90)">Observed -log<tspan class="sub" dy="7">10</tspan><tspan dy="-7">P</tspan></text>
<text class="pl" x="1.2" y="715.5">c</text>
</g>
<g id="panel-d">
<clipPath id="clip-d"><rect x="1123.7" y="715.2" width="868.8" height="517.6"/></clipPath>
<g clip-path="url(#clip-d)">
<polygon fill="#ebebeb" points="1951.1,740.3 1843.7,836.4 1793.8,876.4 1760.9,900.5 1736.3,917.4 1716.7,930.4 1700.4,940.9 1686.4,949.6 1674.1,957 1663.3,963.6 1653.5,969.3 1644.6,974.5 1636.4,979.2 1628.9,983.5 1621.9,987.4 1615.4,991.1 1609.3,994.4 1603.5,997.6 1598.1,1000.6 1593,1003.4 1588.1,1006 1583.4,1008.5 1579,1010.9 1574.7,1013.2 1570.6,1015.4 1566.7,1017.4 1563,1019.4 1559.3,1021.3 1555.9,1023.1 1552.5,1024.9 1549.2,1026.6 1546.1,1028.2 1543,1029.8 1537.2,1032.8 1531.7,1035.7 1526.5,1038.3 1521.5,1040.9 1516.8,1043.2 1512.3,1045.5 1508,1047.7 1503.9,1049.7 1499.9,1051.7 1496.1,1053.6 1492.5,1055.4 1489,1057.2 1485.6,1058.9 1482.3,1060.5 1479.1,1062.1 1476,1063.6 1471.6,1065.8 1467.3,1067.9 1463.2,1069.9 1459.3,1071.8 1455.6,1073.6 1451.9,1075.4 1448.5,1077.1 1445.1,1078.7 1441.8,1080.3 1438.7,1081.8 1435.6,1083.3 1431.7,1085.2 1427.9,1087 1424.3,1088.7 1420.8,1090.4 1417.4,1092 1414.1,1093.6 1410.9,1095.1 1407.9,1096.6 1404.2,1098.3 1400.6,1100 1397.2,1101.7 1393.8,1103.2 1390.6,1104.8 1387.5,1106.2 1384.5,1107.7 1381,1109.3 1377.6,1110.9 1374.3,1112.4 1371.2,1113.9 1368.1,1115.4 1364.6,1117 1361.3,1118.5 1358.1,1120.1 1355,1121.5 1351.9,1122.9 1348.6,1124.5 1345.3,1126 1342.2,1127.5 1339.2,1128.9 1335.9,1130.4 1332.7,1131.9 1329.6,1133.3 1326.6,1134.7 1323.3,1136.2 1320.2,1137.7 1317.2,1139.1 1313.9,1140.6 1310.8,1142 1307.8,1143.4 1304.6,1144.9 1301.5,1146.3 1298.5,1147.7 1295.3,1149.2 1292.3,1150.6 1289.1,1152 1286,1153.4 1282.8,1154.9 1279.7,1156.3 1276.7,1157.7 1273.6,1159.1 1270.6,1160.5 1267.5,1161.9 1264.5,1163.3 1261.4,1164.7 1258.2,1166.2 1255.2,1167.6 1252,1169 1249,1170.4 1246,1171.8 1242.8,1173.2 1239.8,1174.6 1236.8,1176 1233.7,1177.4 1230.7,1178.8 1227.6,1180.2 1224.6,1181.6 1221.5,1183 1218.4,1184.4 1215.3,1185.8 1212.3,1187.2 1209.3,1188.6 1206.2,1190 1203.2,1191.3 1200.2,1192.7 1197.2,1194.1 1194.2,1195.5 1191.2,1196.9 1188.1,1198.3 1185,1199.7 1182,1201.1 1179,1202.5 1176,1203.9 1172.9,1205.4 1169.9,1206.8 1166.8,1208.3 1163.8,1209.8 1163.2,1210.2 1163.2,1210.3 1163.8,1210.2 1166.8,1209.1 1169.9,1207.9 1172.9,1206.7 1176,1205.5 1179,1204.3 1182,1203 1185,1201.8 1188.1,1200.6 1191.2,1199.3 1194.2,1198.1 1197.2,1196.8 1200.2,1195.6 1203.2,1194.3 1206.2,1193.1 1209.3,1191.8 1212.3,1190.6 1215.3,1189.3 1218.4,1188 1221.5,1186.8 1224.6,1185.5 1227.6,1184.2 1230.7,1183 1233.7,1181.7 1236.8,1180.4 1239.8,1179.2 1242.8,1177.9 1246,1176.6 1249,1175.4 1252,1174.1 1255.2,1172.8 1258.2,1171.6 1261.4,1170.3 1264.5,1169 1267.5,1167.7 1270.6,1166.5 1273.6,1165.2 1276.7,1163.9 1279.7,1162.7 1282.8,1161.4 1286,1160.1 1289.1,1158.8 1292.3,1157.5 1295.3,1156.3 1298.5,1155 1301.5,1153.7 1304.6,1152.4 1307.8,1151.1 1310.8,1149.9 1313.9,1148.6 1317.2,1147.3 1320.2,1146 1323.3,1144.8 1326.6,1143.4 1329.6,1142.2 1332.7,1141 1335.9,1139.6 1339.2,1138.3 1342.2,1137.1 1345.3,1135.8 1348.6,1134.5 1351.9,1133.1 1355,1131.9 1358.1,1130.6 1361.3,1129.3 1364.6,1128 1368.1,1126.6 1371.2,1125.3 1374.3,1124.1 1377.6,1122.7 1381,1121.4 1384.5,1120 1387.5,1118.8 1390.6,1117.5 1393.8,1116.2 1397.2,1114.9 1400.6,1113.5 1404.2,1112.1 1407.9,1110.6 1410.9,1109.4 1414.1,1108.1 1417.4,1106.8 1420.8,1105.5 1424.3,1104.1 1427.9,1102.7 1431.7,1101.2 1435.6,1099.7 1438.7,1098.5 1441.8,1097.2 1445.1,1095.9 1448.5,1094.6 1451.9,1093.3 1455.6,1091.9 1459.3,1090.4 1463.2,1088.9 1467.3,1087.3 1471.6,1085.7 1476,1083.9 1479.1,1082.8 1482.3,1081.5 1485.6,1080.3 1489,1079 1492.5,1077.7 1496.1,1076.3 1499.9,1074.8 1503.9,1073.3 1508,1071.8 1512.3,1070.2 1516.8,1068.5 1521.5,1066.7 1526.5,1064.9 1531.7,1063 1537.2,1060.9 1543,1058.8 1546.1,1057.7 1549.2,1056.5 1552.5,1055.3 1555.9,1054.1 1559.3,1052.8 1563,1051.5 1566.7,1050.2 1570.6,1048.8 1574.7,1047.3 1579,1045.8 1583.4,1044.3 1588.1,1042.6 1593,1040.9 1598.1,1039.1 1603.5,1037.3 1609.3,1035.3 1615.4,1033.2 1621.9,1031 1628.9,1028.7 1636.4,1026.2 1644.6,1023.5 1653.5,1020.6 1663.3,1017.5 1674.1,1014 1686.4,1010.3 1700.4,1006 1716.7,1001.3 1736.3,995.7 1760.9,989.1 1793.8,980.9 1843.7,969.8 1951.1,952.3"/>
<line x1="1123.7" y1="1227.5" x2="1992.5" y2="849.3" stroke="#000" stroke-opacity="0.58" stroke-width="2"/>
<g fill="#000"><circle cx="1161.7" cy="1209" r="10.0"/><circle cx="1951.1" cy="911.9" r="10.0"/><circle cx="1843.7" cy="973.8" r="10.0"/><circle cx="1793.8" cy="973.8" r="10.0"/><circle cx="1760.9" cy="976.1" r="10.0"/><circle cx="1736.3" cy="976.4" r="10.0"/><circle cx="1716.7" cy="978.3" r="10.0"/><circle cx="1700.4" cy="985.7" r="10.0"/><circle cx="1686.4" cy="987.8" r="10.0"/><circle cx="1674.1" cy="989.7" r="10.0"/><circle cx="1663.3" cy="994.1" r="10.0"/><circle cx="1653.5" cy="998.5" r="10.0"/><circle cx="1644.6" cy="1002.5" r="10.0"/><circle cx="1636.4" cy="1005.4" r="10.0"/><circle cx="1628.9" cy="1007.6" r="10.0"/><circle cx="1621.9" cy="1009.8" r="10.0"/><circle cx="1615.4" cy="1011.7" r="10.0"/><circle cx="1609.3" cy="1014.3" r="10.0"/><circle cx="1603.5" cy="1017.6" r="10.0"/><circle cx="1598.1" cy="1020.8" r="10.0"/><circle cx="1593" cy="1023.8" r="10.0"/><circle cx="1588.1" cy="1026.3" r="10.0"/><circle cx="1583.4" cy="1027.4" r="10.0"/><circle cx="1579" cy="1028.5" r="10.0"/><circle cx="1574.7" cy="1029.6" r="10.0"/><circle cx="1570.6" cy="1030.6" r="10.0"/><circle cx="1566.7" cy="1031.6" r="10.0"/><circle cx="1563" cy="1032.6" r="10.0"/><circle cx="1559.3" cy="1033.5" r="10.0"/><circle cx="1555.9" cy="1034.4" r="10.0"/><circle cx="1552.5" cy="1035.2" r="10.0"/><circle cx="1549.2" cy="1036.8" r="10.0"/><circle cx="1546.1" cy="1038.7" r="10.0"/><circle cx="1543" cy="1040.5" r="10.0"/><circle cx="1540.1" cy="1042.3" r="10.0"/><circle cx="1537.2" cy="1044" r="10.0"/><circle cx="1534.4" cy="1045.2" r="10.0"/><circle cx="1531.7" cy="1046" r="10.0"/><circle cx="1529" cy="1046.9" r="10.0"/><circle cx="1526.5" cy="1047.7" r="10.0"/><circle cx="1523.9" cy="1048.5" r="10.0"/><circle cx="1521.5" cy="1049.2" r="10.0"/><circle cx="1519.1" cy="1050" r="10.0"/><circle cx="1516.8" cy="1050.7" r="10.0"/><circle cx="1514.5" cy="1051.4" r="10.0"/><circle cx="1512.3" cy="1052.1" r="10.0"/><circle cx="1510.1" cy="1052.8" r="10.0"/><circle cx="1508" cy="1053.5" r="10.0"/><circle cx="1505.9" cy="1054.1" r="10.0"/><circle cx="1503.9" cy="1054.8" r="10.0"/><circle cx="1501.9" cy="1055.4" r="10.0"/><circle cx="1499.9" cy="1056" r="10.0"/><circle cx="1498" cy="1056.6" r="10.0"/><circle cx="1496.1" cy="1057.2" r="10.0"/><circle cx="1494.3" cy="1057.8" r="10.0"/><circle cx="1492.5" cy="1058.4" r="10.0"/><circle cx="1490.7" cy="1058.9" r="10.0"/><circle cx="1489" cy="1059.6" r="10.0"/><circle cx="1487.2" cy="1060.3" r="10.0"/><circle cx="1485.6" cy="1060.9" r="10.0"/><circle cx="1483.9" cy="1061.6" r="10.0"/><circle cx="1482.3" cy="1062.2" r="10.0"/><circle cx="1480.7" cy="1062.8" r="10.0"/><circle cx="1479.1" cy="1063.4" r="10.0"/><circle cx="1477.5" cy="1064" r="10.0"/><circle cx="1476" cy="1064.6" r="10.0"/><circle cx="1474.5" cy="1065.2" r="10.0"/><circle cx="1471.6" cy="1066.3" r="10.0"/><circle cx="1468.7" cy="1067.4" r="10.0"/><circle cx="1465.9" cy="1068.5" r="10.0"/><circle cx="1463.2" cy="1069.5" r="10.0"/><circle cx="1460.6" cy="1070.6" r="10.0"/><circle cx="1458.1" cy="1071.2" r="10.0"/><circle cx="1455.6" cy="1071.7" r="10.0"/><circle cx="1453.1" cy="1072.3" r="10.0"/><circle cx="1450.8" cy="1072.8" r="10.0"/><circle cx="1448.5" cy="1073.3" r="10.0"/><circle cx="1446.2" cy="1073.8" r="10.0"/><circle cx="1444" cy="1075.3" r="10.0"/><circle cx="1441.8" cy="1077.2" r="10.0"/><circle cx="1439.7" cy="1079" r="10.0"/><circle cx="1437.6" cy="1080.1" r="10.0"/><circle cx="1435.6" cy="1081.1" r="10.0"/><circle cx="1433.6" cy="1082" r="10.0"/><circle cx="1431.7" cy="1083" r="10.0"/><circle cx="1429.8" cy="1083.9" r="10.0"/><circle cx="1427.9" cy="1084.8" r="10.0"/><circle cx="1426.1" cy="1085.7" r="10.0"/><circle cx="1424.3" cy="1086.6" r="10.0"/><circle cx="1422.5" cy="1087.5" r="10.0"/><circle cx="1420.8" cy="1088.3" r="10.0"/><circle cx="1419.1" cy="1089.2" r="10.0"/><circle cx="1417.4" cy="1090" r="10.0"/><circle cx="1415.7" cy="1090.8" r="10.0"/><circle cx="1414.1" cy="1091.6" r="10.0"/><circle cx="1412.5" cy="1092.4" r="10.0"/><circle cx="1410.9" cy="1093.2" r="10.0"/><circle cx="1409.4" cy="1094" r="10.0"/><circle cx="1407.9" cy="1094.7" r="10.0"/><circle cx="1406.4" cy="1095.5" r="10.0"/><circle cx="1404.9" cy="1096.2" r="10.0"/><circle cx="1403.4" cy="1096.9" r="10.0"/><circle cx="1402" cy="1097.7" r="10.0"/><circle cx="1399.9" cy="1098.7" r="10.0"/><circle cx="1397.8" cy="1099.8" r="10.0"/><circle cx="1395.8" cy="1100.8" r="10.0"/><circle cx="1393.8" cy="1101.8" r="10.0"/><circle cx="1391.9" cy="1102.7" r="10.0"/><circle cx="1390" cy="1103.7" r="10.0"/><circle cx="1388.1" cy="1104.6" r="10.0"/><circle cx="1386.3" cy="1105.6" r="10.0"/><circle cx="1384.5" cy="1106.5" r="10.0"/><circle cx="1382.7" cy="1107.3" r="10.0"/><circle cx="1381" cy="1108.2" r="10.0"/><circle cx="1379.3" cy="1109.2" r="10.0"/><circle cx="1377.6" cy="1110.1" r="10.0"/><circle cx="1375.9" cy="1110.9" r="10.0"/><circle cx="1374.3" cy="1111.8" r="10.0"/><circle cx="1372.7" cy="1112.7" r="10.0"/><circle cx="1371.2" cy="1113.5" r="10.0"/><circle cx="1369.6" cy="1114.3" r="10.0"/><circle cx="1368.1" cy="1115.1" r="10.0"/><circle cx="1366.6" cy="1115.9" r="10.0"/><circle cx="1365.1" cy="1116.7" r="10.0"/><circle cx="1363.7" cy="1117.5" r="10.0"/><circle cx="1362.2" cy="1118.3" r="10.0"/><circle cx="1360.4" cy="1119.3" r="10.0"/><circle cx="1358.5" cy="1119.9" r="10.0"/><circle cx="1356.7" cy="1120.2" r="10.0"/><circle cx="1355" cy="1120.4" r="10.0"/><circle cx="1353.2" cy="1120.7" r="10.0"/><circle cx="1351.5" cy="1120.9" r="10.0"/><circle cx="1349.8" cy="1121.2" r="10.0"/><circle cx="1348.2" cy="1121.4" r="10.0"/><circle cx="1346.5" cy="1121.7" r="10.0"/><circle cx="1344.9" cy="1121.9" r="10.0"/><circle cx="1343.4" cy="1122.5" r="10.0"/><circle cx="1341.8" cy="1123.4" r="10.0"/><circle cx="1340.3" cy="1124.2" r="10.0"/><circle cx="1338.8" cy="1125.1" r="10.0"/><circle cx="1337.3" cy="1125.9" r="10.0"/><circle cx="1335.9" cy="1126.7" r="10.0"/><circle cx="1334.4" cy="1127.6" r="10.0"/><circle cx="1333" cy="1128.4" r="10.0"/><circle cx="1331.6" cy="1129.2" r="10.0"/><circle cx="1329.9" cy="1130.1" r="10.0"/><circle cx="1328.2" cy="1131.1" r="10.0"/><circle cx="1326.6" cy="1132" r="10.0"/><circle cx="1324.9" cy="1133" r="10.0"/><circle cx="1323.3" cy="1133.9" r="10.0"/><circle cx="1321.7" cy="1134.8" r="10.0"/><circle cx="1320.2" cy="1135.6" r="10.0"/><circle cx="1318.7" cy="1136.5" r="10.0"/><circle cx="1317.2" cy="1137.3" r="10.0"/><circle cx="1315.7" cy="1138.1" r="10.0"/><circle cx="1314.2" cy="1138.9" r="10.0"/><circle cx="1312.8" cy="1139.7" r="10.0"/><circle cx="1311.4" cy="1140.5" r="10.0"/><circle cx="1309.7" cy="1141.4" r="10.0"/><circle cx="1308.1" cy="1142.3" r="10.0"/><circle cx="1306.4" cy="1143.2" r="10.0"/><circle cx="1304.8" cy="1144.1" r="10.0"/><circle cx="1303.3" cy="1144.9" r="10.0"/><circle cx="1301.7" cy="1145.8" r="10.0"/><circle cx="1300.2" cy="1146.6" r="10.0"/><circle cx="1298.7" cy="1147.4" r="10.0"/><circle cx="1297.2" cy="1148.2" r="10.0"/><circle cx="1295.8" cy="1149" r="10.0"/><circle cx="1294.4" cy="1149.8" r="10.0"/><circle cx="1293" cy="1150.6" r="10.0"/><circle cx="1291.3" cy="1151.5" r="10.0"/><circle cx="1289.8" cy="1152.2" r="10.0"/><circle cx="1288.2" cy="1152.8" r="10.0"/><circle cx="1286.6" cy="1153.5" r="10.0"/><circle cx="1285.1" cy="1154.1" r="10.0"/><circle cx="1283.6" cy="1154.8" r="10.0"/><circle cx="1282" cy="1155.5" r="10.0"/><circle cx="1280.3" cy="1156.2" r="10.0"/><circle cx="1278.7" cy="1156.9" r="10.0"/><circle cx="1277.1" cy="1157.6" r="10.0"/><circle cx="1275.5" cy="1158.2" r="10.0"/><circle cx="1274" cy="1158.9" r="10.0"/><circle cx="1272.4" cy="1159.5" r="10.0"/><circle cx="1270.9" cy="1160.2" r="10.0"/><circle cx="1269.5" cy="1160.8" r="10.0"/><circle cx="1267.8" cy="1161.5" r="10.0"/><circle cx="1266.2" cy="1162.2" r="10.0"/><circle cx="1264.6" cy="1162.9" r="10.0"/><circle cx="1263.1" cy="1163.5" r="10.0"/><circle cx="1261.5" cy="1164.2" r="10.0"/><circle cx="1260" cy="1164.8" r="10.0"/><circle cx="1258.5" cy="1165.4" r="10.0"/><circle cx="1256.9" cy="1166" r="10.0"/><circle cx="1255.3" cy="1166.7" r="10.0"/><circle cx="1253.8" cy="1167.3" r="10.0"/><circle cx="1252.2" cy="1167.9" r="10.0"/><circle cx="1250.7" cy="1168.5" r="10.0"/><circle cx="1249.2" cy="1169.1" r="10.0"/><circle cx="1247.6" cy="1169.8" r="10.0"/><circle cx="1246" cy="1170.4" r="10.0"/><circle cx="1244.4" cy="1171" r="10.0"/><circle cx="1242.8" cy="1171.6" r="10.0"/><circle cx="1241.3" cy="1172.2" r="10.0"/><circle cx="1239.8" cy="1172.8" r="10.0"/><circle cx="1238.2" cy="1173.5" r="10.0"/><circle cx="1236.6" cy="1174.1" r="10.0"/><circle cx="1235.1" cy="1174.7" r="10.0"/><circle cx="1233.5" cy="1175.4" r="10.0"/><circle cx="1232" cy="1176" r="10.0"/><circle cx="1230.5" cy="1176.5" r="10.0"/><circle cx="1228.9" cy="1177.2" r="10.0"/><circle cx="1227.4" cy="1177.8" r="10.0"/><circle cx="1225.8" cy="1178.4" r="10.0"/><circle cx="1224.3" cy="1179" r="10.0"/><circle cx="1222.8" cy="1179.6" r="10.0"/><circle cx="1221.3" cy="1180.2" r="10.0"/><circle cx="1219.7" cy="1180.9" r="10.0"/><circle cx="1218.2" cy="1181.5" r="10.0"/><circle cx="1216.7" cy="1182.1" r="10.0"/><circle cx="1215.2" cy="1182.7" r="10.0"/><circle cx="1213.7" cy="1183.4" r="10.0"/><circle cx="1212.3" cy="1184.2" r="10.0"/><circle cx="1210.8" cy="1184.9" r="10.0"/><circle cx="1209.3" cy="1185.7" r="10.0"/><circle cx="1207.8" cy="1186.4" r="10.0"/><circle cx="1206.3" cy="1187.2" r="10.0"/><circle cx="1204.9" cy="1187.9" r="10.0"/><circle cx="1203.4" cy="1188.6" r="10.0"/><circle cx="1201.9" cy="1189.4" r="10.0"/><circle cx="1200.5" cy="1190.1" r="10.0"/><circle cx="1199" cy="1190.8" r="10.0"/><circle cx="1197.5" cy="1191.6" r="10.0"/><circle cx="1196" cy="1192.3" r="10.0"/><circle cx="1194.6" cy="1193.1" r="10.0"/><circle cx="1193.2" cy="1193.8" r="10.0"/><circle cx="1191.7" cy="1194.5" r="10.0"/><circle cx="1190.2" cy="1195.3" r="10.0"/><circle cx="1188.7" cy="1196" r="10.0"/><circle cx="1187.3" cy="1196.7" r="10.0"/><circle cx="1185.8" cy="1197.5" r="10.0"/><circle cx="1184.3" cy="1198.2" r="10.0"/><circle cx="1182.9" cy="1199" r="10.0"/><circle cx="1181.4" cy="1199.7" r="10.0"/><circle cx="1179.9" cy="1200.5" r="10.0"/><circle cx="1178.4" cy="1201.2" r="10.0"/><circle cx="1177" cy="1201.9" r="10.0"/><circle cx="1175.5" cy="1202.6" r="10.0"/><circle cx="1174.1" cy="1203.4" r="10.0"/><circle cx="1172.6" cy="1204.1" r="10.0"/><circle cx="1171.1" cy="1204.9" r="10.0"/><circle cx="1169.7" cy="1205.6" r="10.0"/><circle cx="1168.2" cy="1206.3" r="10.0"/><circle cx="1166.8" cy="1207.1" r="10.0"/><circle cx="1165.3" cy="1207.8" r="10.0"/><circle cx="1163.8" cy="1208.5" r="10.0"/><circle cx="1163.2" cy="1208.8" r="10.0"/></g>
</g>
<rect x="1123.7" y="715.2" width="868.8" height="517.6" fill="none" stroke="#2b2b2b" stroke-width="2.2" stroke-linejoin="round"/>
<path d="M1163.2 1232.8v6.6M1388.3 1232.8v6.6M1613.4 1232.8v6.6M1838.5 1232.8v6.6M1123.7 1210.3h-9M1123.7 1112.3h-9M1123.7 1014.3h-9M1123.7 916.3h-9M1123.7 818.3h-9M1123.7 720.3h-9" stroke="#2b2b2b" stroke-width="2.2" fill="none"/>
<g class="tl" text-anchor="middle"><text x="1162.4" y="1271.4" textLength="14.3" lengthAdjust="spacingAndGlyphs">0</text><text x="1387.5" y="1271.4" textLength="14.3" lengthAdjust="spacingAndGlyphs">1</text><text x="1612.6" y="1271.4" textLength="14.3" lengthAdjust="spacingAndGlyphs">2</text><text x="1837.7" y="1271.4" textLength="14.3" lengthAdjust="spacingAndGlyphs">3</text></g>
<g class="tl" text-anchor="end"><text x="1108.5" y="1221.9" textLength="14.3" lengthAdjust="spacingAndGlyphs">0</text><text x="1108.5" y="1123.9" textLength="14.3" lengthAdjust="spacingAndGlyphs">1</text><text x="1108.5" y="1025.9" textLength="14.3" lengthAdjust="spacingAndGlyphs">2</text><text x="1108.5" y="927.9" textLength="14.3" lengthAdjust="spacingAndGlyphs">3</text><text x="1108.5" y="829.9" textLength="14.3" lengthAdjust="spacingAndGlyphs">4</text><text x="1108.5" y="731.9" textLength="14.3" lengthAdjust="spacingAndGlyphs">5</text></g>
<text class="at" text-anchor="middle" textLength="243" lengthAdjust="spacingAndGlyphs" x="1558.1" y="1310.4">Expected -log<tspan class="sub" dy="7">10</tspan><tspan dy="-7">P</tspan></text>
<text class="at" text-anchor="middle" textLength="239.5" lengthAdjust="spacingAndGlyphs" transform="translate(1071.6 973) rotate(-90)">Observed -log<tspan class="sub" dy="7">10</tspan><tspan dy="-7">P</tspan></text>
<text class="pl" x="1017.8" y="715.5">d</text>
</g>
</svg>
</body>
</html>
